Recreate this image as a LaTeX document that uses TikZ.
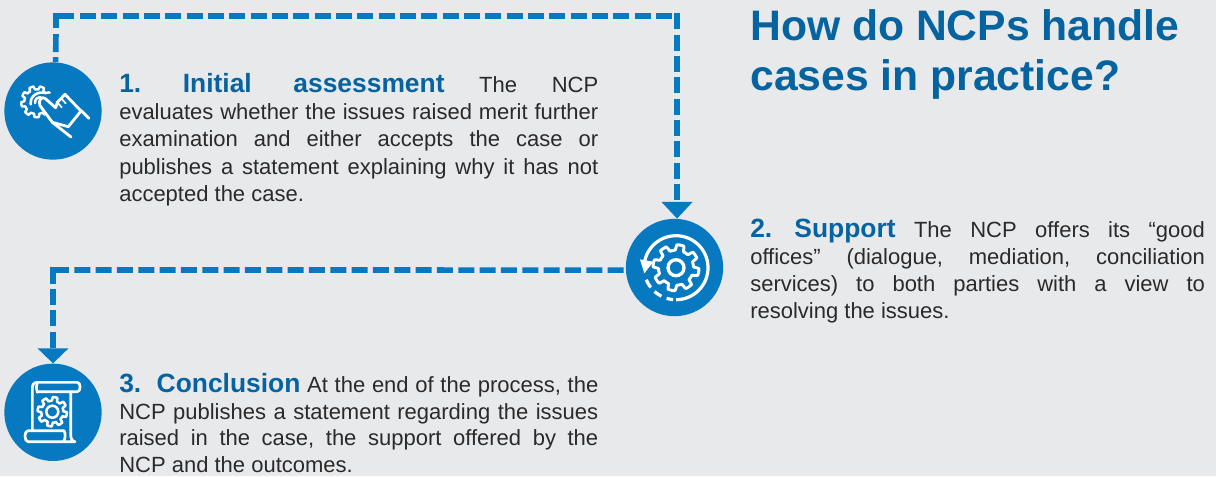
\documentclass[tikz,border=0pt]{standalone}
\usepackage{fontspec}
\setmainfont{Liberation Sans}
\usetikzlibrary{arrows.meta}
\definecolor{bgc}{HTML}{E8E9EB}
\definecolor{disc}{HTML}{0779C1}
\definecolor{headc}{HTML}{05639F}
\definecolor{bodyc}{HTML}{2B2A2A}
\newcommand{\jl}[2]{\makebox[#1][s]{#2}\par}
\newcommand{\hd}[1]{{\fontsize{19.8pt}{20.6pt}\selectfont\bfseries\color{headc}#1}}
\newcommand{\gearicon}[7]{% cx cy ro ri teeth phase width
  \draw[icon,line width=#7,shift={(#1,#2)}] plot[domain=0:360,samples=241]
    (\x:{#4+(#3-#4)*max(0,min(1,0.5+1.6*sin(#5*\x+#6)))}) -- cycle;}
\tikzset{
  x=0.75pt,y=-0.75pt,
  stepdisc/.style={circle,fill=disc,draw=none,minimum size=73pt,inner sep=0pt},
  flow/.style={draw=disc,line width=4.2pt,dash pattern=on 12pt off 4pt},
  flowcorner/.style={draw=disc,line width=4.2pt,line join=miter},
  flowhead/.style={-{Triangle[length=#1,width=22.5pt,fill=disc]}},
  icon/.style={draw=white,line width=1.7pt,line join=round,line cap=round},
  para/.style={anchor=base west,inner sep=0pt,text=bodyc,font=\fontsize{16.5pt}{20.6pt}\selectfont},
  title/.style={anchor=base west,inner sep=0pt,text=headc,font=\fontsize{32pt}{38pt}\selectfont\bfseries}
}
\begin{document}
\begin{tikzpicture}
\path[use as bounding box,fill=bgc] (0,0) rectangle (1216,476);
% discs
\node[stepdisc] (c1) at (53,111) {};
\node[stepdisc] (c2) at (674.5,267.5) {};
\node[stepdisc] (c3) at (53,412.3) {};
% connector 1
\coordinate (tl) at (56,16);
\coordinate (tlv) at (56,28);
\coordinate (tlh) at (74,16);
\coordinate (tlv2) at (56,33.5);
\coordinate (tlh2) at (80,16);
\coordinate (trh) at (672.3,16);
\coordinate (trv) at (c2.87 |- 0,13.25);
\draw[flow,dash pattern=on 3.75pt off 3.75pt on 13.5pt off 100pt] (c1.87) -- (tlv2);
\draw[flowcorner] (tlv) -- (tl) -- (tlh);
\draw[flow] (tlh2) -- (trh);
\draw[flow,flowhead=12.5pt] (trv) -- (c2.87);
% connector 2
\coordinate (ml) at (53,270);
\coordinate (mlh) at (69,270);
\coordinate (mlv) at (53,284);
\coordinate (mlh2) at (74.3,270);
\coordinate (mlv2) at (53,289);
\draw[flow] (mlh2) -- (c2.183);
\draw[flowcorner] (mlh) -- (ml) -- (mlv);
\draw[flow,flowhead=11.25pt] (mlv2) -- (c3.north);
% icon 1
\gearicon{36.7}{101.7}{15.5}{12.3}{9}{0}{1.8pt}
\begin{scope}[shift={(15,75)},x=0.25pt,y=-0.25pt]
  \fill[disc] (62,66) -- (150,45) -- (205,105) -- (160,165) -- (105,150) -- cycle;
  \draw[icon,line width=1.9pt] (47,88) .. controls (45,62) and (68,48) .. (92,54);
  \draw[icon,line width=1.9pt] (60,84) .. controls (60,72) and (68,66) .. (76,66);
  \draw[icon,line width=2.1pt] (90,70) -- (122,98) -- (127,82) -- (150,58) -- (198,108) -- (160,155) -- (112,142) -- (75,92) .. controls (68,78) and (80,62) .. (90,70);
  \draw[icon,line width=2.1pt] (198,106) -- (222,130);
  \draw[icon,line width=2.1pt] (112,142) -- (168,186);
  \draw[icon,line width=1.3pt] (127,82) -- (140,97) (139,70) -- (152,85) (150,58) -- (165,75);
\end{scope}
% icon 2
\begin{scope}[shift={(676,267.7)}]
  \draw[icon,line width=2.4pt,line cap=butt] plot[domain=90:-172,samples=80] (\x:32);
  \draw[icon,line width=2.4pt,line cap=butt] plot[domain=158:142,samples=8] (\x:32);
  \draw[icon,line width=2.4pt,line cap=butt] plot[domain=132:117,samples=8] (\x:32);
  \draw[icon,line width=2.4pt,line cap=butt] plot[domain=107:95,samples=8] (\x:32);
  \fill[white] (-36,-8.3) -- (-22.7,-6) -- (-31.7,5.7) -- cycle;
  \draw[icon,line width=2.5pt] (0,0) circle[radius=8];
\end{scope}
\gearicon{676}{267.7}{23}{17.5}{8}{0}{2.2pt}
% icon 3
\begin{scope}[shift={(0,340)},x=0.25pt,y=-0.25pt]
  \draw[icon,line width=2pt] (112,157) .. controls (108,147) and (108,137) .. (112,127) -- (232,127) .. controls (243,127) and (243,155) .. (232,155) -- (112,155);
  \draw[icon,line width=2pt] (112,127) .. controls (100,127) and (97,135) .. (97,145) -- (97,272);
  \draw[icon,line width=2pt] (212,155) -- (212,285) .. controls (212,295) and (218,305) .. (225,305) -- (84,305) .. controls (72,305) and (72,272) .. (84,272) -- (192,272) .. controls (197,280) and (197,295) .. (190,305);
\end{scope}
\gearicon{52.3}{411.7}{14.7}{11}{8}{0}{1.9pt}
\draw[icon,line width=1.9pt] (52.3,411.7) circle[radius=6];
% texts
\node[para] (t1) at (119,92) {\parbox[t]{359.25pt}{\frenchspacing\parindent=0pt\parskip=0pt\baselineskip=20.6pt
  \jl{359.25pt}{\hd{1. Initial assessment} The NCP}
  \jl{359.25pt}{evaluates whether the issues raised merit further}
  \jl{359.25pt}{examination and either accepts the case or}
  \jl{359.25pt}{publishes a statement explaining why it has not}
  accepted the case.}};
\node[para] (t2) at (750,237) {\parbox[t]{341pt}{\frenchspacing\parindent=0pt\parskip=0pt\baselineskip=20.4pt
  \jl{341pt}{\hd{2. Support} The NCP offers its “good}
  \jl{341pt}{offices” (dialogue, mediation, conciliation}
  \jl{341pt}{services) to both parties with a view to}
  resolving the issues.}};
\node[para] (t3) at (119,392.5) {\parbox[t]{359.25pt}{\frenchspacing\parindent=0pt\parskip=0pt\baselineskip=19.9pt
  \jl{359.25pt}{\hd{3.\hspace*{0.28em} Conclusion} At the end of the process, the}
  \jl{359.25pt}{NCP publishes a statement regarding the issues}
  \jl{359.25pt}{raised in the case, the support offered by the}
  NCP and the outcomes.}};
\node[title] (ttl) at (750,40) {\parbox[t]{350pt}{\parindent=0pt\baselineskip=38pt
  How do NCPs handle\par cases in practice?}};
\end{tikzpicture}
\end{document}
